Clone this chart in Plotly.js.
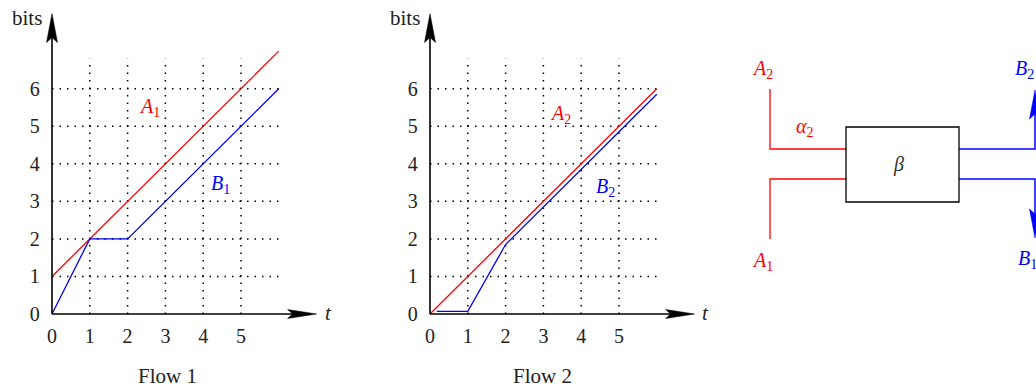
<!DOCTYPE html>
<html><head><meta charset="utf-8">
<script src="https://cdn.plot.ly/plotly-3.0.1.min.js"></script>
<style>html,body{margin:0;padding:0;background:#fff}#chart{width:1036px;height:390px}</style>
</head><body><div id="chart"></div>
<script>
// ---- data ----
const xTicks = [0, 1, 2, 3, 4, 5];
const yTicks = [0, 1, 2, 3, 4, 5, 6];
const xTickText = ['0', '1', '2', '3', '4', '5'];
const yTickText = ['0', '1', '2', '3', '4', '5', '6'];
const a1X = [0, 6], a1Y = [1, 7];
const b1X = [0, 1, 2, 6], b1Y = [0, 2, 2, 6];
const a2X = [0, 6], a2Y = [0, 6];
const b2X = [0.18, 1, 2, 6], b2Y = [0.07, 0.07, 1.85, 5.85];
const panelTitles = ['Flow 1', 'Flow 2'];

// ---- helpers ----
const W = 1036, H = 390;
const px = x => x / W;
const py = y => 1 - y / H;
const RED = '#ff0000', BLUE = '#0000ff', INK = '#222222';
const SERIF = 'Liberation Serif, DejaVu Serif, serif';

const shapes = [];
const annotations = [];

const ptext = (x, y, t, c, size) => annotations.push({xref:'paper', yref:'paper', x:px(x), y:py(y),
  xanchor:'center', yanchor:'middle', text:t, showarrow:false, font:{family:SERIF, size:size, color:c}});

function panel(xr, yr, bitsX, tX) {
  xTicks.filter(v => v > 0).forEach(v => shapes.push({type:'line', xref:xr, yref:yr, x0:v, x1:v, y0:0, y1:6.8,
    line:{color:'#000', width:1.5, dash:'1.5px,6px'}, layer:'below'}));
  yTicks.filter(v => v > 0).forEach(v => shapes.push({type:'line', xref:xr, yref:yr, x0:0, x1:6, y0:v, y1:v,
    line:{color:'#000', width:1.5, dash:'1.5px,6px'}, layer:'below'}));
  shapes.push({type:'line', xref:xr, yref:yr, x0:0, x1:6.8, y0:0, y1:0, line:{color:'#000', width:1.6}});
  shapes.push({type:'line', xref:xr, yref:yr, x0:0, x1:0, y0:0, y1:7.8, line:{color:'#000', width:1.6}});
  shapes.push({type:'path', xref:xr, yref:yr, xsizemode:'pixel', ysizemode:'pixel', xanchor:7, yanchor:0,
    path:'M0,0 L-29,4.5 L-24,0 L-29,-4.5 Z', fillcolor:'#000', line:{color:'#000', width:0.5}});
  shapes.push({type:'path', xref:xr, yref:yr, xsizemode:'pixel', ysizemode:'pixel', xanchor:0, yanchor:8,
    path:'M0,0 L-5.5,-29 L0,-24 L5.5,-29 Z', fillcolor:'#000', line:{color:'#000', width:0.5}});
  ptext(bitsX, 18, 'bits', INK, 21);
  ptext(tX, 313, '<i>t</i>', INK, 21);
}
panel('x', 'y', 27, 328);
panel('x2', 'y2', 405, 705);

const lab = (xr, yr, x, y, t, c) => annotations.push({xref:xr, yref:yr, x:x, y:y, xanchor:'center', yanchor:'middle',
  text:t, showarrow:false, font:{family:SERIF, size:20, color:c}});
lab('x', 'y', 2.59, 5.49, '<i>A</i><sub>1</sub>', RED);
lab('x', 'y', 4.47, 3.44, '<i>B</i><sub>1</sub>', BLUE);
lab('x2', 'y2', 3.44, 5.30, '<i>A</i><sub>2</sub>', RED);
lab('x2', 'y2', 4.63, 3.38, '<i>B</i><sub>2</sub>', BLUE);

ptext(167, 376, panelTitles[0], INK, 21);
ptext(542, 376, panelTitles[1], INK, 21);

// ---- block diagram (paper coords from pixel helper) ----
const P = pts => 'M' + pts.map(p => px(p[0]) + ',' + py(p[1])).join(' L');
shapes.push({type:'path', xref:'paper', yref:'paper', path:P([[770,89],[770,149],[846,149]]), line:{color:RED, width:1.3}});
shapes.push({type:'path', xref:'paper', yref:'paper', path:P([[770,239],[770,179],[846,179]]), line:{color:RED, width:1.3}});
shapes.push({type:'rect', xref:'paper', yref:'paper', x0:px(846), x1:px(959), y0:py(127), y1:py(202), line:{color:'#000', width:1.3}});
shapes.push({type:'path', xref:'paper', yref:'paper', path:P([[959,149],[1035,149],[1035,100]]), line:{color:BLUE, width:1.5}});
shapes.push({type:'path', xref:'paper', yref:'paper', path:P([[959,179],[1035,179],[1035,228]]), line:{color:BLUE, width:1.5}});
shapes.push({type:'path', xref:'paper', yref:'paper', path:P([[1035,90],[1029.5,119],[1035,114],[1040.5,119]]) + ' Z', fillcolor:BLUE, line:{color:BLUE, width:0.5}});
shapes.push({type:'path', xref:'paper', yref:'paper', path:P([[1035,238],[1029.5,209],[1035,214],[1040.5,209]]) + ' Z', fillcolor:BLUE, line:{color:BLUE, width:0.5}});

ptext(762, 69, '<i>A</i><sub>2</sub>', RED, 20);
ptext(762, 261, '<i>A</i><sub>1</sub>', RED, 20);
ptext(805, 128, '<i>α</i><sub>2</sub>', RED, 20);
ptext(898, 164, '<i>β</i>', '#333', 20);
ptext(1024, 69, '<i>B</i><sub>2</sub>', BLUE, 20);
ptext(1027, 259, '<i>B</i><sub>1</sub>', BLUE, 20);

// ---- traces ----
const line = (x, y, c, xa, ya) => ({type:'scatter', mode:'lines', x:x, y:y, xaxis:xa, yaxis:ya,
  line:{color:c, width:1.3}, hoverinfo:'skip', cliponaxis:false});
const data = [
  line(a1X, a1Y, RED, 'x', 'y'),
  line(b1X, b1Y, BLUE, 'x', 'y'),
  line(a2X, a2Y, RED, 'x2', 'y2'),
  line(b2X, b2Y, BLUE, 'x2', 'y2')
];

const xAx = dom => ({domain:dom, range:[-0.3, 7.5], showline:false, zeroline:false, showgrid:false, ticks:'',
  tickvals:xTicks, ticktext:xTickText, tickfont:{family:SERIF, size:20, color:INK}, fixedrange:true});
const yAx = (anchor) => ({domain:[0.1756, 0.9844], range:[-0.2, 8.2], showline:false, zeroline:false, showgrid:false, ticks:'',
  tickvals:yTicks, ticktext:yTickText, tickfont:{family:SERIF, size:20, color:INK}, fixedrange:true, anchor:anchor});

const layout = {
  width:W, height:H, margin:{l:0, r:0, t:0, b:0}, showlegend:false,
  paper_bgcolor:'#fff', plot_bgcolor:'rgba(0,0,0,0)',
  xaxis:Object.assign(xAx([40.66/W, 335.5/W]), {anchor:'y'}),
  yaxis:yAx('x'),
  xaxis2:Object.assign(xAx([418.66/W, 713.5/W]), {anchor:'y2'}),
  yaxis2:yAx('x2'),
  shapes:shapes, annotations:annotations
};
Plotly.newPlot('chart', data, layout, {displayModeBar:false, staticPlot:true});
</script></body></html>
